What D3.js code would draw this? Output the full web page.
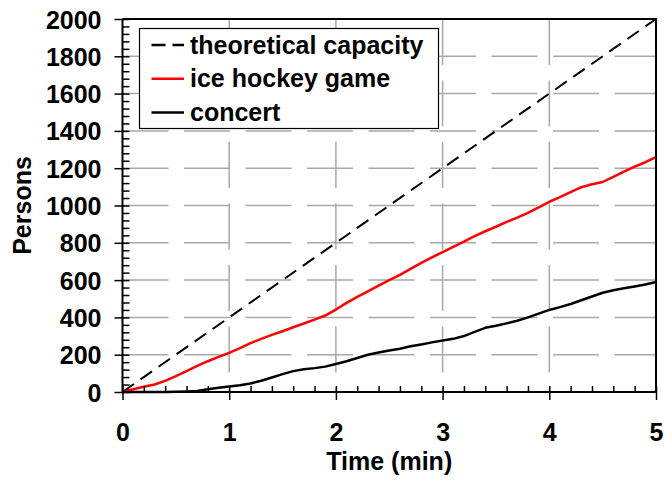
<!DOCTYPE html>
<html>
<head>
<meta charset="utf-8">
<script src="https://cdn.jsdelivr.net/npm/d3@7"></script>
<style>
  html, body { margin: 0; padding: 0; background: #fff; }
  svg text { font-family: "Liberation Sans", Arial, sans-serif; font-weight: bold; fill: #000; }
</style>
</head>
<body>
<svg id="chart" width="665" height="485"></svg>
<script>
// Time axis (minutes) sampled every 0.1 min
const timeMin = d3.range(0, 51).map(i => i / 10);

// Persons passed through, ice hockey game
const hockeyPersons = [
  0, 15, 28, 40, 60, 85, 112, 140, 165, 188,
  210, 235, 262, 285, 306, 326, 347, 367, 388, 410,
  442, 478, 510, 540, 570, 600, 628, 660, 692, 722,
  750, 778, 806, 836, 862, 886, 912, 935, 960, 990,
  1020, 1045, 1072, 1098, 1114, 1126, 1154, 1182, 1208, 1232,
  1260
];

// Persons passed through, concert
const concertPersons = [
  0, 0, 0, 0, 0, 1, 3, 6, 15, 23,
  30, 36, 46, 60, 78, 96, 112, 122, 128, 136,
  150, 165, 182, 200, 212, 222, 232, 245, 255, 266,
  276, 285, 300, 322, 344, 355, 368, 382, 400, 420,
  440, 455, 472, 492, 512, 532, 546, 556, 566, 576,
  590
];

// Theoretical capacity: straight line between the end points
const capacityTime = [0, 5];
const capacityPersons = [0, 2000];

const xTicks = [0, 1, 2, 3, 4, 5];
const yTicks = [0, 200, 400, 600, 800, 1000, 1200, 1400, 1600, 1800, 2000];

const seriesNames = ["theoretical capacity", "ice hockey game", "concert"];

(function draw() {
  const svg = d3.select("#chart");
  const pLeft = 122.5, pRight = 656, pTop = 19, pBottom = 392;

  const x = d3.scaleLinear().domain([0, 5]).range([pLeft, pRight]);
  const y = d3.scaleLinear().domain([0, 2000]).range([pBottom, pTop]);

  // Grid lines (long dashes, drawn from the top/left edge)
  const grid = svg.append("g");
  grid.selectAll("line.h").data(yTicks.filter(v => v > 0 && v < 2000)).join("line")
    .attr("x1", pLeft).attr("x2", pRight)
    .attr("y1", d => y(d)).attr("y2", d => y(d))
    .attr("stroke", "#a8a8a8").attr("stroke-width", 1.5)
    .attr("stroke-dasharray", "46,15.5");
  grid.selectAll("line.v").data(xTicks.filter(v => v > 0 && v < 5)).join("line")
    .attr("x1", d => x(d)).attr("x2", d => x(d))
    .attr("y1", pTop).attr("y2", pBottom)
    .attr("stroke", "#a8a8a8").attr("stroke-width", 1.5)
    .attr("stroke-dasharray", "46,15.5");

  // Data lines
  const line = d3.line().x(d => x(d[0])).y(d => y(d[1]));
  const plot = svg.append("g");
  plot.append("path")
    .datum(d3.zip(capacityTime, capacityPersons))
    .attr("d", line).attr("fill", "none")
    .attr("stroke", "#000").attr("stroke-width", 2)
    .attr("stroke-dasharray", "14,8");
  plot.append("path")
    .datum(d3.zip(timeMin, hockeyPersons))
    .attr("d", line).attr("fill", "none")
    .attr("stroke", "#ff0000").attr("stroke-width", 2.5)
    .attr("stroke-linejoin", "round");
  plot.append("path")
    .datum(d3.zip(timeMin, concertPersons))
    .attr("d", line).attr("fill", "none")
    .attr("stroke", "#000").attr("stroke-width", 2.5)
    .attr("stroke-linejoin", "round");

  // Frame: top and right edges
  svg.append("path")
    .attr("d", `M${pLeft},${pTop}H${pRight}V${pBottom}`)
    .attr("fill", "none").attr("stroke", "#000").attr("stroke-width", 2);

  // Minor ticks (inside)
  const xMinor = d3.range(0, 26).map(i => i / 5).filter(v => !xTicks.includes(v));
  const yMinor = d3.range(0, 51).map(i => i * 40).filter(v => !yTicks.includes(v));

  const xMinorAxis = d3.axisBottom(x).tickValues(xMinor).tickSize(-6).tickFormat("");
  svg.append("g").attr("transform", `translate(0,${pBottom})`).call(xMinorAxis)
    .call(g => g.select(".domain").remove())
    .call(g => g.selectAll(".tick line").attr("stroke", "#000").attr("stroke-width", 1.5));

  const yMinorAxis = d3.axisLeft(y).tickValues(yMinor).tickSize(-7).tickFormat("");
  svg.append("g").attr("transform", `translate(${pLeft},0)`).call(yMinorAxis)
    .call(g => g.select(".domain").remove())
    .call(g => g.selectAll(".tick line").attr("stroke", "#000").attr("stroke-width", 1.5));

  const labelStyle = sel => sel
    .style("font-size", "25px")
    .style("font-family", "'Liberation Sans', Arial, sans-serif")
    .style("font-weight", "bold")
    .attr("fill", "#000");

  // Major axes: ticks cross the axis line
  const xAxis = d3.axisBottom(x).tickValues(xTicks).tickSize(8).tickPadding(0).tickFormat(d3.format("d"));
  svg.append("g").attr("transform", `translate(0,${pBottom})`).call(xAxis)
    .call(g => g.select(".domain").attr("stroke", "#000").attr("stroke-width", 2).attr("d", `M${pLeft},0H${pRight}`))
    .call(g => g.selectAll(".tick line").attr("y1", -6).attr("stroke", "#000").attr("stroke-width", 1.5))
    .call(g => g.selectAll(".tick text").attr("y", 49).attr("dy", null).call(labelStyle));

  const yAxis = d3.axisLeft(y).tickValues(yTicks).tickSize(8).tickPadding(0).tickFormat(d3.format("d"));
  svg.append("g").attr("transform", `translate(${pLeft},0)`).call(yAxis)
    .call(g => g.select(".domain").attr("stroke", "#000").attr("stroke-width", 2).attr("d", `M0,${pBottom}V${pTop}`))
    .call(g => g.selectAll(".tick line").attr("x1", 7).attr("stroke", "#000").attr("stroke-width", 1.5))
    .call(g => g.selectAll(".tick text").attr("x", -21).attr("dy", "0.36em").call(labelStyle));

  // Axis titles
  svg.append("text")
    .attr("x", (pLeft + pRight) / 2).attr("y", 470)
    .attr("text-anchor", "middle").style("font-size", "25px")
    .text("Time (min)");
  svg.append("text")
    .attr("transform", `translate(31,${(pTop + pBottom) / 2}) rotate(-90)`)
    .attr("text-anchor", "middle").style("font-size", "25px")
    .text("Persons");

  // Legend
  const legend = svg.append("g");
  legend.append("rect")
    .attr("x", 139.5).attr("y", 28.5).attr("width", 299).attr("height", 100)
    .attr("fill", "#fff").attr("stroke", "#000").attr("stroke-width", 1.2);
  const legendStyles = [
    { color: "#000", dash: "14,7" },
    { color: "#ff0000", dash: null },
    { color: "#000", dash: null }
  ];
  const rows = legend.selectAll("g.row").data(seriesNames).join("g")
    .attr("transform", (d, i) => `translate(0,${45 + i * 33.7})`);
  rows.append("line")
    .attr("x1", 151.5).attr("x2", 184)
    .attr("stroke", (d, i) => legendStyles[i].color)
    .attr("stroke-width", 2.5)
    .attr("stroke-dasharray", (d, i) => legendStyles[i].dash);
  rows.append("text")
    .attr("x", 190).attr("y", 8.5)
    .style("font-size", "25px")
    .text(d => d);
})();
</script>
</body>
</html>
